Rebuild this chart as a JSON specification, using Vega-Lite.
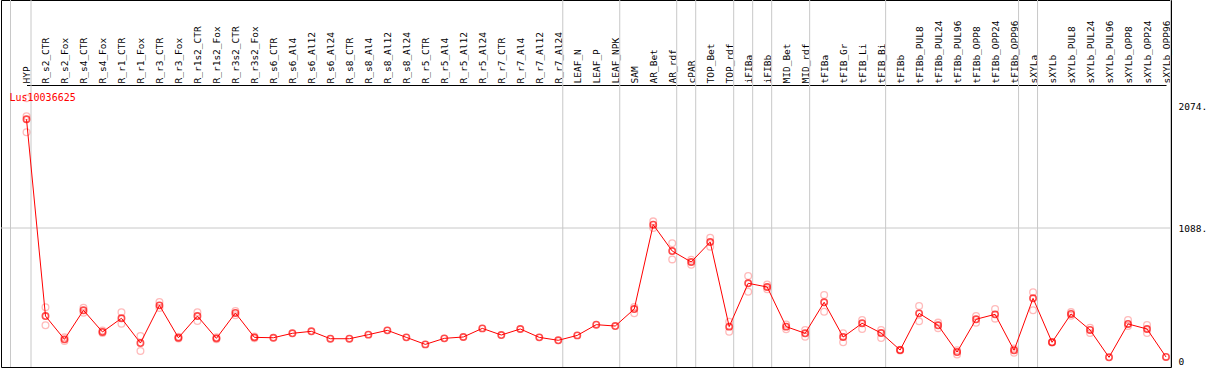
{
  "$schema": "https://vega.github.io/schema/vega-lite/v6.json",
  "width": 1170,
  "height": 367,
  "autosize": "none",
  "padding": {"left": 1, "top": 0, "right": 38, "bottom": 3},
  "background": "white",
  "config": {"view": {"stroke": "black", "strokeWidth": 1}, "font": "DejaVu Sans Mono"},
  "datasets": {
    "one": [{}],
    "sep": [
      {"s": "HYP"}, {"s": "R_r7_Al24"}, {"s": "LEAF_NPK"}, {"s": "AR_rdf"}, {"s": "cPAR"}, {"s": "TOP_rdf"},
      {"s": "iFIBa"}, {"s": "iFIBb"}, {"s": "MID_rdf"}, {"s": "tFIB_Bi"}, {"s": "tFIBb_OPP96"}, {"s": "sXYLa"}, {"s": "sXYLb_OPP96"}
    ],
    "d": [
      {"s": "HYP", "k": "r", "v": 2141}, {"s": "HYP", "k": "r", "v": 1995}, {"s": "HYP", "k": "r", "v": 1865}, {"s": "HYP", "k": "m", "v": 1971},
      {"s": "R_s2_CTR", "k": "r", "v": 444}, {"s": "R_s2_CTR", "k": "r", "v": 298}, {"s": "R_s2_CTR", "k": "m", "v": 373},
      {"s": "R_s2_Fox", "k": "r", "v": 200}, {"s": "R_s2_Fox", "k": "r", "v": 170}, {"s": "R_s2_Fox", "k": "m", "v": 184},
      {"s": "R_s4_CTR", "k": "r", "v": 440}, {"s": "R_s4_CTR", "k": "r", "v": 400}, {"s": "R_s4_CTR", "k": "m", "v": 420},
      {"s": "R_s4_Fox", "k": "r", "v": 255}, {"s": "R_s4_Fox", "k": "r", "v": 235}, {"s": "R_s4_Fox", "k": "m", "v": 244},
      {"s": "R_r1_CTR", "k": "r", "v": 404}, {"s": "R_r1_CTR", "k": "r", "v": 311}, {"s": "R_r1_CTR", "k": "m", "v": 355},
      {"s": "R_r1_Fox", "k": "r", "v": 211}, {"s": "R_r1_Fox", "k": "r", "v": 89}, {"s": "R_r1_Fox", "k": "m", "v": 154},
      {"s": "R_r3_CTR", "k": "r", "v": 487}, {"s": "R_r3_CTR", "k": "r", "v": 438}, {"s": "R_r3_CTR", "k": "m", "v": 460},
      {"s": "R_r3_Fox", "k": "r", "v": 205}, {"s": "R_r3_Fox", "k": "r", "v": 190}, {"s": "R_r3_Fox", "k": "m", "v": 197},
      {"s": "R_r1s2_CTR", "k": "r", "v": 404}, {"s": "R_r1s2_CTR", "k": "r", "v": 333}, {"s": "R_r1s2_CTR", "k": "m", "v": 373},
      {"s": "R_r1s2_Fox", "k": "r", "v": 200}, {"s": "R_r1s2_Fox", "k": "r", "v": 185}, {"s": "R_r1s2_Fox", "k": "m", "v": 192},
      {"s": "R_r3s2_CTR", "k": "r", "v": 415}, {"s": "R_r3s2_CTR", "k": "r", "v": 380}, {"s": "R_r3s2_CTR", "k": "m", "v": 398},
      {"s": "R_r3s2_Fox", "k": "r", "v": 208}, {"s": "R_r3s2_Fox", "k": "r", "v": 192}, {"s": "R_r3s2_Fox", "k": "m", "v": 200},
      {"s": "R_s6_CTR", "k": "m", "v": 197},
      {"s": "R_s6_Al4", "k": "m", "v": 233},
      {"s": "R_s6_Al12", "k": "m", "v": 249},
      {"s": "R_s6_Al24", "k": "m", "v": 189},
      {"s": "R_s8_CTR", "k": "m", "v": 189},
      {"s": "R_s8_Al4", "k": "m", "v": 222},
      {"s": "R_s8_Al12", "k": "m", "v": 257},
      {"s": "R_s8_Al24", "k": "m", "v": 200},
      {"s": "R_r5_CTR", "k": "m", "v": 143},
      {"s": "R_r5_Al4", "k": "m", "v": 192},
      {"s": "R_r5_Al12", "k": "m", "v": 203},
      {"s": "R_r5_Al24", "k": "m", "v": 273},
      {"s": "R_r7_CTR", "k": "m", "v": 219},
      {"s": "R_r7_Al4", "k": "m", "v": 268},
      {"s": "R_r7_Al12", "k": "m", "v": 200},
      {"s": "R_r7_Al24", "k": "m", "v": 176},
      {"s": "LEAF_N", "k": "m", "v": 216},
      {"s": "LEAF_P", "k": "m", "v": 303},
      {"s": "LEAF_NPK", "k": "m", "v": 292},
      {"s": "SAM", "k": "r", "v": 447}, {"s": "SAM", "k": "r", "v": 395}, {"s": "SAM", "k": "m", "v": 430},
      {"s": "AR_Bet", "k": "r", "v": 1142}, {"s": "AR_Bet", "k": "r", "v": 1088}, {"s": "AR_Bet", "k": "m", "v": 1115},
      {"s": "AR_rdf", "k": "r", "v": 964}, {"s": "AR_rdf", "k": "r", "v": 833}, {"s": "AR_rdf", "k": "m", "v": 901},
      {"s": "cPAR", "k": "r", "v": 830}, {"s": "cPAR", "k": "r", "v": 790}, {"s": "cPAR", "k": "m", "v": 812},
      {"s": "TOP_Bet", "k": "r", "v": 1009}, {"s": "TOP_Bet", "k": "r", "v": 936}, {"s": "TOP_Bet", "k": "m", "v": 974},
      {"s": "TOP_rdf", "k": "r", "v": 327}, {"s": "TOP_rdf", "k": "r", "v": 246}, {"s": "TOP_rdf", "k": "m", "v": 287},
      {"s": "iFIBa", "k": "r", "v": 698}, {"s": "iFIBa", "k": "r", "v": 571}, {"s": "iFIBa", "k": "m", "v": 639},
      {"s": "iFIBb", "k": "r", "v": 630}, {"s": "iFIBb", "k": "r", "v": 590}, {"s": "iFIBb", "k": "m", "v": 609},
      {"s": "MID_Bet", "k": "r", "v": 305}, {"s": "MID_Bet", "k": "r", "v": 265}, {"s": "MID_Bet", "k": "m", "v": 287},
      {"s": "MID_rdf", "k": "r", "v": 260}, {"s": "MID_rdf", "k": "r", "v": 205}, {"s": "MID_rdf", "k": "m", "v": 233},
      {"s": "tFIBa", "k": "r", "v": 544}, {"s": "tFIBa", "k": "r", "v": 408}, {"s": "tFIBa", "k": "m", "v": 485},
      {"s": "tFIB_Gr", "k": "r", "v": 233}, {"s": "tFIB_Gr", "k": "r", "v": 160}, {"s": "tFIB_Gr", "k": "m", "v": 203},
      {"s": "tFIB_Li", "k": "r", "v": 341}, {"s": "tFIB_Li", "k": "r", "v": 268}, {"s": "tFIB_Li", "k": "m", "v": 314},
      {"s": "tFIB_Bi", "k": "r", "v": 260}, {"s": "tFIB_Bi", "k": "r", "v": 195}, {"s": "tFIB_Bi", "k": "m", "v": 235},
      {"s": "tFIBb", "k": "r", "v": 100}, {"s": "tFIBb", "k": "r", "v": 94}, {"s": "tFIBb", "k": "m", "v": 97},
      {"s": "tFIBb_PUL8", "k": "r", "v": 455}, {"s": "tFIBb_PUL8", "k": "r", "v": 330}, {"s": "tFIBb_PUL8", "k": "m", "v": 395},
      {"s": "tFIBb_PUL24", "k": "r", "v": 320}, {"s": "tFIBb_PUL24", "k": "r", "v": 275}, {"s": "tFIBb_PUL24", "k": "m", "v": 298},
      {"s": "tFIBb_PUL96", "k": "r", "v": 95}, {"s": "tFIBb_PUL96", "k": "r", "v": 60}, {"s": "tFIBb_PUL96", "k": "m", "v": 81},
      {"s": "tFIBb_OPP8", "k": "r", "v": 373}, {"s": "tFIBb_OPP8", "k": "r", "v": 319}, {"s": "tFIBb_OPP8", "k": "m", "v": 347},
      {"s": "tFIBb_OPP24", "k": "r", "v": 430}, {"s": "tFIBb_OPP24", "k": "r", "v": 352}, {"s": "tFIBb_OPP24", "k": "m", "v": 387},
      {"s": "tFIBb_OPP96", "k": "r", "v": 110}, {"s": "tFIBb_OPP96", "k": "r", "v": 75}, {"s": "tFIBb_OPP96", "k": "m", "v": 95},
      {"s": "sXYLa", "k": "r", "v": 566}, {"s": "sXYLa", "k": "r", "v": 420}, {"s": "sXYLa", "k": "m", "v": 517},
      {"s": "sXYLb", "k": "r", "v": 162}, {"s": "sXYLb", "k": "r", "v": 158}, {"s": "sXYLb", "k": "m", "v": 160},
      {"s": "sXYLb_PUL8", "k": "r", "v": 405}, {"s": "sXYLb_PUL8", "k": "r", "v": 375}, {"s": "sXYLb_PUL8", "k": "m", "v": 390},
      {"s": "sXYLb_PUL24", "k": "r", "v": 278}, {"s": "sXYLb_PUL24", "k": "r", "v": 235}, {"s": "sXYLb_PUL24", "k": "m", "v": 260},
      {"s": "sXYLb_PUL96", "k": "m", "v": 38},
      {"s": "sXYLb_OPP8", "k": "r", "v": 341}, {"s": "sXYLb_OPP8", "k": "r", "v": 292}, {"s": "sXYLb_OPP8", "k": "m", "v": 309},
      {"s": "sXYLb_OPP24", "k": "r", "v": 300}, {"s": "sXYLb_OPP24", "k": "r", "v": 235}, {"s": "sXYLb_OPP24", "k": "m", "v": 268},
      {"s": "sXYLb_OPP96", "k": "m", "v": 41}
    ]
  },
  "layer": [
    {
      "data": {"name": "d"},
      "transform": [{"filter": "datum.k == 'm'"}],
      "mark": {"type": "point", "shape": "circle", "filled": false, "stroke": "#ff0000", "strokeWidth": 1.6, "size": 40, "opacity": 0},
      "encoding": {
        "x": {
          "field": "s", "type": "nominal", "sort": null,
          "scale": {
            "type": "point",
            "padding": 0,
            "range": [25.5, 1165],
            "domain": ["HYP", "R_s2_CTR", "R_s2_Fox", "R_s4_CTR", "R_s4_Fox", "R_r1_CTR", "R_r1_Fox", "R_r3_CTR", "R_r3_Fox", "R_r1s2_CTR", "R_r1s2_Fox", "R_r3s2_CTR", "R_r3s2_Fox", "R_s6_CTR", "R_s6_Al4", "R_s6_Al12", "R_s6_Al24", "R_s8_CTR", "R_s8_Al4", "R_s8_Al12", "R_s8_Al24", "R_r5_CTR", "R_r5_Al4", "R_r5_Al12", "R_r5_Al24", "R_r7_CTR", "R_r7_Al4", "R_r7_Al12", "R_r7_Al24", "LEAF_N", "LEAF_P", "LEAF_NPK", "SAM", "AR_Bet", "AR_rdf", "cPAR", "TOP_Bet", "TOP_rdf", "iFIBa", "iFIBb", "MID_Bet", "MID_rdf", "tFIBa", "tFIB_Gr", "tFIB_Li", "tFIB_Bi", "tFIBb", "tFIBb_PUL8", "tFIBb_PUL24", "tFIBb_PUL96", "tFIBb_OPP8", "tFIBb_OPP24", "tFIBb_OPP96", "sXYLa", "sXYLb", "sXYLb_PUL8", "sXYLb_PUL24", "sXYLb_PUL96", "sXYLb_OPP8", "sXYLb_OPP24", "sXYLb_OPP96"]
          },
          "axis": {
            "orient": "top", "offset": -85, "title": null,
            "labelAngle": 270, "labelAlign": "left", "labelBaseline": "middle",
            "labelPadding": 2, "ticks": false, "domain": true, "domainColor": "#000000", "domainWidth": 1,
            "labelFont": "DejaVu Sans Mono", "labelFontSize": 9.5, "labelColor": "#000000",
            "labelOverlap": false, "labelBound": false, "grid": false
          }
        },
        "y": {
          "field": "v", "type": "quantitative",
          "scale": {"domain": [-40.6, 2939.3], "nice": false, "zero": false},
          "axis": {
            "orient": "right", "title": null, "values": [0, 1088, 2074],
            "labelExpr": "datum.value == 0 ? '0' : datum.value + '.'",
            "domain": false, "ticks": false, "grid": false, "labelPadding": 7,
            "labelAlign": "left", "labelBaseline": "middle",
            "labelFont": "DejaVu Sans Mono", "labelFontSize": 9.5, "labelColor": "#000000", "labelOverlap": false
          }
        }
      }
    },
    {
      "data": {"name": "one"},
      "mark": {"type": "rule", "color": "#c8c8c8", "strokeWidth": 1},
      "encoding": {
        "y": {"datum": 1088, "type": "quantitative"}
      }
    },
    {
      "data": {"name": "sep"},
      "mark": {"type": "rule", "color": "#c8c8c8", "strokeWidth": 1, "xOffset": 4.5},
      "encoding": {
        "x": {"field": "s", "type": "nominal", "sort": null}
      }
    },
    {
      "data": {"name": "one"},
      "mark": {"type": "rule", "color": "#c8c8c8", "strokeWidth": 1, "xOffset": -16},
      "encoding": {
        "x": {"datum": "HYP", "type": "nominal"}
      }
    },
    {
      "data": {"name": "d"},
      "transform": [{"filter": "datum.k == 'r'"}],
      "mark": {"type": "point", "shape": "circle", "filled": false, "stroke": "#ff0000", "strokeOpacity": 0.38, "strokeWidth": 1.3, "size": 45},
      "encoding": {
        "x": {"field": "s", "type": "nominal", "sort": null},
        "y": {"field": "v", "type": "quantitative"}
      }
    },
    {
      "data": {"name": "d"},
      "transform": [{"filter": "datum.k == 'm'"}],
      "mark": {"type": "line", "color": "#ff0000", "strokeWidth": 1},
      "encoding": {
        "x": {"field": "s", "type": "nominal", "sort": null},
        "y": {"field": "v", "type": "quantitative"}
      }
    },
    {
      "data": {"name": "d"},
      "transform": [{"filter": "datum.k == 'm'"}],
      "mark": {"type": "point", "shape": "circle", "filled": false, "stroke": "#ff0000", "strokeWidth": 1.6, "size": 40},
      "encoding": {
        "x": {"field": "s", "type": "nominal", "sort": null},
        "y": {"field": "v", "type": "quantitative"}
      }
    },
    {
      "data": {"name": "one"},
      "mark": {"type": "text", "text": "Lus10036625", "color": "#ff0000", "font": "DejaVu Sans Mono", "fontSize": 10, "align": "left", "baseline": "middle", "dx": -17},
      "encoding": {
        "x": {"datum": "HYP", "type": "nominal"},
        "y": {"datum": 2144, "type": "quantitative"}
      }
    }
  ]
}
